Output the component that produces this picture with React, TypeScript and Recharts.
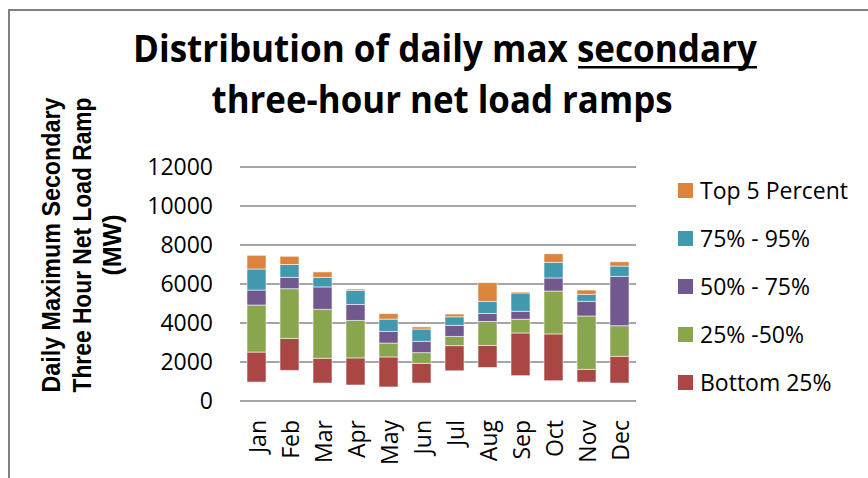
import { BarChart, Bar, XAxis, YAxis, CartesianGrid } from 'recharts';

// month categories
const months = ['Jan', 'Feb', 'Mar', 'Apr', 'May', 'Jun', 'Jul', 'Aug', 'Sep', 'Oct', 'Nov', 'Dec'];

// percentile levels of the daily max secondary 3-hour ramp (MW)
const minimum = [970, 1570, 920, 820, 720, 920, 1550, 1720, 1300, 1040, 970, 920];
const p25 = [2510, 3210, 2190, 2210, 2260, 1930, 2840, 2850, 3490, 3440, 1620, 2290];
const p50 = [4920, 5760, 4700, 4130, 2970, 2480, 3310, 4080, 4190, 5640, 4360, 3860];
const p75 = [5690, 6340, 5850, 4950, 3570, 3060, 3880, 4490, 4600, 6310, 5110, 6390];
const p95 = [6770, 7000, 6340, 5670, 4200, 3690, 4320, 5110, 5540, 7110, 5470, 6920];
const maximum = [7470, 7420, 6620, 5740, 4480, 3800, 4460, 6070, 5590, 7550, 5690, 7140];

const yTicks = [0, 2000, 4000, 6000, 8000, 10000, 12000];

// stacked segments, bottom to top
const series = [
  { key: 'bottom', name: 'Bottom 25%', color: '#AA4643' },
  { key: 'q2', name: '25% -50%', color: '#89A54E' },
  { key: 'q3', name: '50% - 75%', color: '#71588F' },
  { key: 'q4', name: '75% - 95%', color: '#4198AF' },
  { key: 'top', name: 'Top 5 Percent', color: '#DB843D' },
];

const data = months.map((m, i) => ({
  month: m,
  base: minimum[i],
  bottom: p25[i] - minimum[i],
  q2: p50[i] - p25[i],
  q3: p75[i] - p50[i],
  q4: p95[i] - p75[i],
  top: maximum[i] - p95[i],
}));

const FONT = "'Open Sans', sans-serif";

const MonthTick = (props: any) => {
  const { x, y, payload } = props;
  return (
    <text
      x={x}
      y={y}
      transform={`rotate(-90, ${x}, ${y})`}
      textAnchor="end"
      dominantBaseline="central"
      fontSize={23}
      fontFamily={FONT}
      fill="#000"
    >
      {payload.value}
    </text>
  );
};

export default function App() {
  const yTitle = ['Daily Maximum Secondary', 'Three Hour Net Load Ramp', '(MW)'];
  const yTitleX = [60, 91, 121];

  return (
    <div
      style={{
        position: 'absolute',
        left: 0,
        top: 0,
        width: 868,
        height: 478,
        overflow: 'hidden',
        background: '#fff',
      }}
    >
      <div
        style={{
          position: 'absolute',
          left: 8,
          top: 9,
          width: 900,
          height: 520,
          borderLeft: '2px solid #808080',
          borderTop: '2px solid #808080',
        }}
      />
      <div style={{ position: 'absolute', left: 0, top: 0 }}>
        <BarChart
          width={868}
          height={478}
          data={data}
          margin={{ top: 167, right: 232, bottom: 17, left: 180 }}
        >
          <CartesianGrid vertical={false} stroke="#878787" strokeWidth={1.5} />
          <XAxis
            dataKey="month"
            interval={0}
            axisLine={false}
            tickLine={false}
            tickSize={0}
            tickMargin={19}
            height={60}
            tick={<MonthTick />}
          />
          <YAxis
            width={60}
            domain={[0, 12000]}
            ticks={yTicks}
            interval={0}
            axisLine={false}
            tickLine={false}
            tickSize={0}
            tickMargin={27}
            tick={{ fontSize: 23, fontFamily: FONT, fill: '#000' }}
          />
          <Bar dataKey="base" stackId="a" fill="transparent" barSize={19} isAnimationActive={false} />
          {series.map((s) => (
            <Bar
              key={s.key}
              dataKey={s.key}
              name={s.name}
              stackId="a"
              fill={s.color}
              stroke="rgba(255,255,255,0.55)"
              strokeWidth={1}
              barSize={19}
              isAnimationActive={false}
            />
          ))}
        </BarChart>
      </div>

      <svg
        width={868}
        height={478}
        style={{ position: 'absolute', left: 0, top: 0, pointerEvents: 'none' }}
      >
        <text
          x={445}
          y={62}
          textAnchor="middle"
          fontSize={38}
          fontWeight={700}
          fontFamily={FONT}
          textLength={624}
          lengthAdjust="spacingAndGlyphs"
          fill="#000"
        >
          Distribution of daily max secondary
        </text>
        {/* underline under "secondary" */}
        <rect x={578} y={66} width={179} height={2.5} fill="#000" />
        <text
          x={442}
          y={113}
          textAnchor="middle"
          fontSize={38}
          fontWeight={700}
          fontFamily={FONT}
          textLength={461}
          lengthAdjust="spacingAndGlyphs"
          fill="#000"
        >
          three-hour net load ramps
        </text>
        {yTitle.map((t, i) => (
          <text
            key={t}
            x={yTitleX[i]}
            y={245}
            transform={`rotate(-90, ${yTitleX[i]}, 245)`}
            textAnchor="middle"
            fontSize={25}
            fontWeight={700}
            fontFamily="'Liberation Sans', Arial, sans-serif"
            textLength={i < 2 ? 295 : undefined}
            lengthAdjust="spacingAndGlyphs"
            fill="#000"
          >
            {t}
          </text>
        ))}
      </svg>

      <div style={{ position: 'absolute', left: 678, top: 166 }}>
        {[...series].reverse().map((s) => (
          <div
            key={s.key}
            style={{ display: 'flex', alignItems: 'center', height: 48, fontFamily: FONT, fontSize: 23, color: '#000' }}
          >
            <span style={{ width: 15, height: 15, background: s.color, marginRight: 7, display: 'inline-block' }} />
            <span style={{ whiteSpace: 'nowrap' }}>{s.name}</span>
          </div>
        ))}
      </div>
    </div>
  );
}
